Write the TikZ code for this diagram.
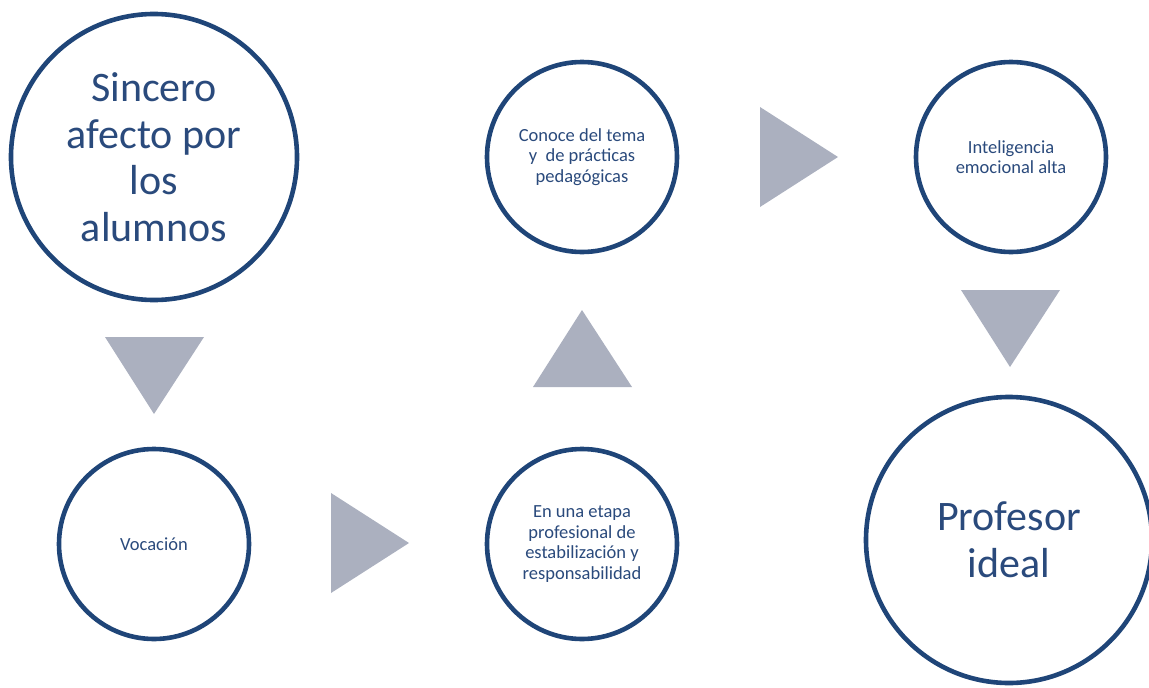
\documentclass[tikz,border=0pt]{standalone}
\usepackage{fontspec}
\setmainfont{Carlito}
\definecolor{ringblue}{HTML}{1F4578}
\definecolor{textblue}{HTML}{2A4A7C}
\definecolor{trigray}{HTML}{ABB0BF}
\begin{document}
\begin{tikzpicture}[x=1pt,y=-1pt,
  ring/.style={circle,draw=ringblue,line width=4.6pt,fill=white,text=textblue,align=center,inner sep=0pt},
  bigring/.style={ring,minimum size=286pt},
  smallring/.style={ring,minimum size=190pt},
  bigtext/.style={font=\fontsize{42}{46.5}\selectfont},
  smalltext/.style={font=\fontsize{18.5}{20.7}\selectfont},
  tri/.style={fill=trigray,draw=none}]
\useasboundingbox (0,0) rectangle (1149,688);
\clip (0,0) rectangle (1149,688);
\node[bigring,bigtext] (afecto) at (154,157) {Sincero\\afecto por\\los\\alumnos};
\node[smallring,smalltext] (vocacion) at (154,544) {Vocación};
\node[smallring,smalltext] (etapa) at (582,544) {En una etapa\\profesional de\\estabilización y\\responsabilidad};
\node[smallring,smalltext] (conoce) at (582,157) {Conoce del tema\\y\ \ de prácticas\\pedagógicas};
\node[smallring,smalltext] (inteligencia) at (1011,157) {Inteligencia\\emocional alta};
\node[bigring,bigtext] (profesor) at (1009,540) {Profesor\\ideal};
% triangles
\fill[tri] (105,337) -- (204,337) -- (154,414) -- cycle;
\fill[tri] (331,493) -- (331,593) -- (409,543) -- cycle;
\fill[tri] (533,387) -- (632,387) -- (582,310) -- cycle;
\fill[tri] (760,107) -- (760,207) -- (838,157) -- cycle;
\fill[tri] (961,290) -- (1060,290) -- (1010,367) -- cycle;
\end{tikzpicture}
\end{document}
